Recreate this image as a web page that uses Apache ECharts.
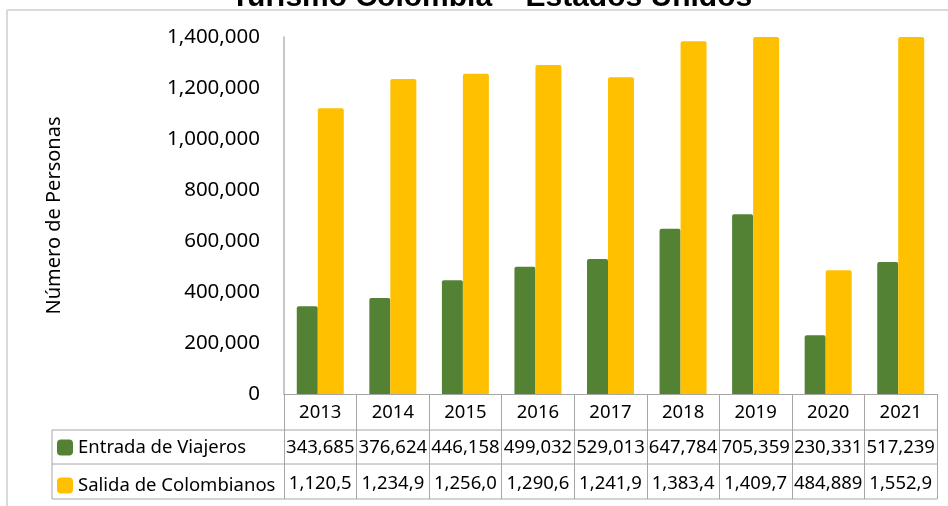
<!DOCTYPE html>
<html><head><meta charset="utf-8">
<script src="https://cdn.jsdelivr.net/npm/echarts@6/dist/echarts.min.js"></script>
<style>html,body{margin:0;padding:0;background:#fff}#c{width:948px;height:506px}</style>
</head><body><div id="c"></div><script>
// ---- data ----
const titleText = 'Turismo Colombia – Estados Unidos';
const yAxisTitle = 'Número de Personas';
const years = ['2013','2014','2015','2016','2017','2018','2019','2020','2021'];
const seriesNames = ['Entrada de Viajeros','Salida de Colombianos'];
const entrada = [343685,376624,446158,499032,529013,647784,705359,230331,517239];
const salida = [1120546,1234929,1256013,1290657,1241978,1383469,1409729,484889,1552934];
const yMin = 0, yMax = 1400000, yStep = 200000;

// ---- layout / style ----
const GL = 284, GR = 937, GT = 37, GB = 394;
const R1 = 430, R2 = 464, R3 = 499, LEG_L = 52;
const FONT = 'Noto Sans';
const TABLE_LINE = '#a6a6a6';
const fmt = v => Number(v).toLocaleString('en-US');
const cellW = (GR - GL) / years.length;

const chart = echarts.init(document.getElementById('c'), null, {renderer: 'canvas'});
const hline = (x1, x2, y, color, w) => ({type: 'line', silent: true,
  shape: {x1, y1: y, x2, y2: y}, style: {stroke: color, lineWidth: w || 1}});
const vline = (x, y1, y2, color, w) => ({type: 'line', silent: true,
  shape: {x1: x, y1, x2: x, y2}, style: {stroke: color, lineWidth: w || 1}});

chart.setOption({
  animation: false,
  backgroundColor: '#fff',
  textStyle: {fontFamily: FONT, color: '#000'},
  title: {
    text: titleText, left: 226, top: -22,
    textStyle: {fontFamily: 'Liberation Sans', fontWeight: 'bold', fontSize: 30, color: '#000'}
  },
  legend: {
    data: seriesNames, orient: 'vertical', left: LEG_L + 1, top: 434, height: 120, padding: 4,
    itemWidth: 16, itemHeight: 16, itemGap: 19, icon: 'roundRect',
    textStyle: {fontSize: 18.5, lineHeight: 16, color: '#000', fontFamily: FONT}, selectedMode: false
  },
  grid: {left: GL, top: GT, width: GR - GL, height: GB - GT},
  xAxis: [
    {
      type: 'category', data: years, position: 'bottom',
      axisLine: {show: true, lineStyle: {color: TABLE_LINE, width: 1}},
      axisTick: {show: true, length: R3 - GB, interval: 0, lineStyle: {color: TABLE_LINE}},
      axisLabel: {interval: 0, fontSize: 18.5, color: '#000', margin: 9, fontFamily: FONT}
    },
    {
      type: 'category', data: years, position: 'bottom', offset: R1 - GB,
      axisLine: {show: false}, axisTick: {show: false},
      axisLabel: {interval: 0, fontSize: 18.5, color: '#000', margin: 8, fontFamily: FONT,
        formatter: (v, i) => fmt(entrada[i]), width: cellW - 3, overflow: 'truncate', ellipsis: ''}
    },
    {
      type: 'category', data: years, position: 'bottom', offset: R2 - GB,
      axisLine: {show: false}, axisTick: {show: false},
      axisLabel: {interval: 0, fontSize: 18.5, color: '#000', margin: 10, fontFamily: FONT,
        formatter: (v, i) => fmt(salida[i]), width: cellW - 3, overflow: 'truncate', ellipsis: ''}
    }
  ],
  yAxis: {
    type: 'value', min: yMin, max: yMax, interval: yStep,
    axisLine: {show: true, lineStyle: {color: '#b4b4b4', width: 1.5}},
    axisTick: {show: false}, splitLine: {show: false},
    axisLabel: {formatter: v => fmt(v), fontSize: 20.5, color: '#000', margin: 24, fontFamily: FONT},
    name: yAxisTitle, nameLocation: 'middle', nameGap: 220,
    nameTextStyle: {fontSize: 20, color: '#000', fontFamily: FONT}
  },
  series: [
    {name: seriesNames[0], type: 'bar', data: entrada, barWidth: 21, barGap: '0%', clip: true,
      itemStyle: {color: '#548235', borderRadius: [2, 2, 0, 0]}},
    {name: seriesNames[1], type: 'bar', data: salida, barWidth: 26, barGap: '0%', clip: true,
      itemStyle: {color: '#FFC000', borderRadius: [2, 2, 0, 0]}}
  ],
  graphic: [
    hline(7, 948, 10, '#d9d9d9', 2),
    vline(7, 10, 506, '#d9d9d9', 2),
    hline(LEG_L, GR, R1, TABLE_LINE),
    hline(LEG_L, GR, R2, TABLE_LINE),
    hline(LEG_L, GR, R3, TABLE_LINE),
    vline(LEG_L, R1, R3, TABLE_LINE)
  ]
});
</script></body></html>
